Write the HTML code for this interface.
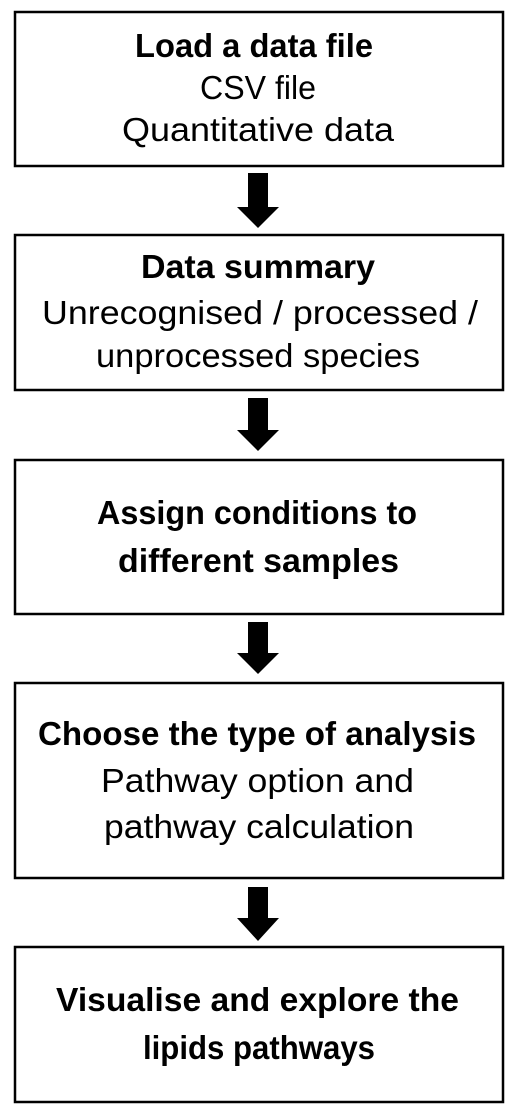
<!DOCTYPE html>
<html><head><meta charset="utf-8"><style>
html,body{margin:0;padding:0;background:#fff;}
svg{display:block}
text{font-family:"Liberation Sans",sans-serif;font-size:33px;fill:#000;}
.b{font-weight:bold;}
</style></head><body>
<svg width="520" height="1120" viewBox="0 0 520 1120" xmlns="http://www.w3.org/2000/svg">
<g fill="none" stroke="#000" stroke-width="2.5">
<rect x="15" y="12" width="488" height="154"/>
<rect x="15" y="235" width="488" height="155"/>
<rect x="15" y="460" width="488" height="154"/>
<rect x="15" y="683" width="488" height="195"/>
<rect x="15" y="947" width="488" height="155"/>
</g>
<g fill="#000">
<polygon points="248,173 268,173 268,207 279,207 258,228 237,207 248,207"/>
<polygon points="248,398 268,398 268,430 279,430 258,451 237,430 248,430"/>
<polygon points="248,622 268,622 268,653 279,653 258,674 237,653 248,653"/>
<polygon points="248,887 268,887 268,918 279,918 258,941 237,918 248,918"/>
</g>
<text class="b" x="135" y="57" textLength="238" lengthAdjust="spacingAndGlyphs">Load a data file</text>
<text x="200" y="99" textLength="116" lengthAdjust="spacingAndGlyphs">CSV file</text>
<text x="122" y="141" textLength="272" lengthAdjust="spacingAndGlyphs">Quantitative data</text>

<text class="b" x="141" y="278" textLength="234" lengthAdjust="spacingAndGlyphs">Data summary</text>
<text x="42" y="324" textLength="436" lengthAdjust="spacingAndGlyphs">Unrecognised / processed /</text>
<text x="96" y="367" textLength="324" lengthAdjust="spacingAndGlyphs">unprocessed species</text>

<text class="b" x="97" y="524" textLength="320" lengthAdjust="spacingAndGlyphs">Assign conditions to</text>
<text class="b" x="118" y="572" textLength="281" lengthAdjust="spacingAndGlyphs">different samples</text>

<text class="b" x="38" y="745" textLength="438" lengthAdjust="spacingAndGlyphs">Choose the type of analysis</text>
<text x="101" y="792" textLength="313" lengthAdjust="spacingAndGlyphs">Pathway option and</text>
<text x="104" y="838" textLength="310" lengthAdjust="spacingAndGlyphs">pathway calculation</text>

<text class="b" x="56" y="1011" textLength="403" lengthAdjust="spacingAndGlyphs">Visualise and explore the</text>
<text class="b" x="143" y="1059" textLength="232" lengthAdjust="spacingAndGlyphs">lipids pathways</text>
</svg>
</body></html>
